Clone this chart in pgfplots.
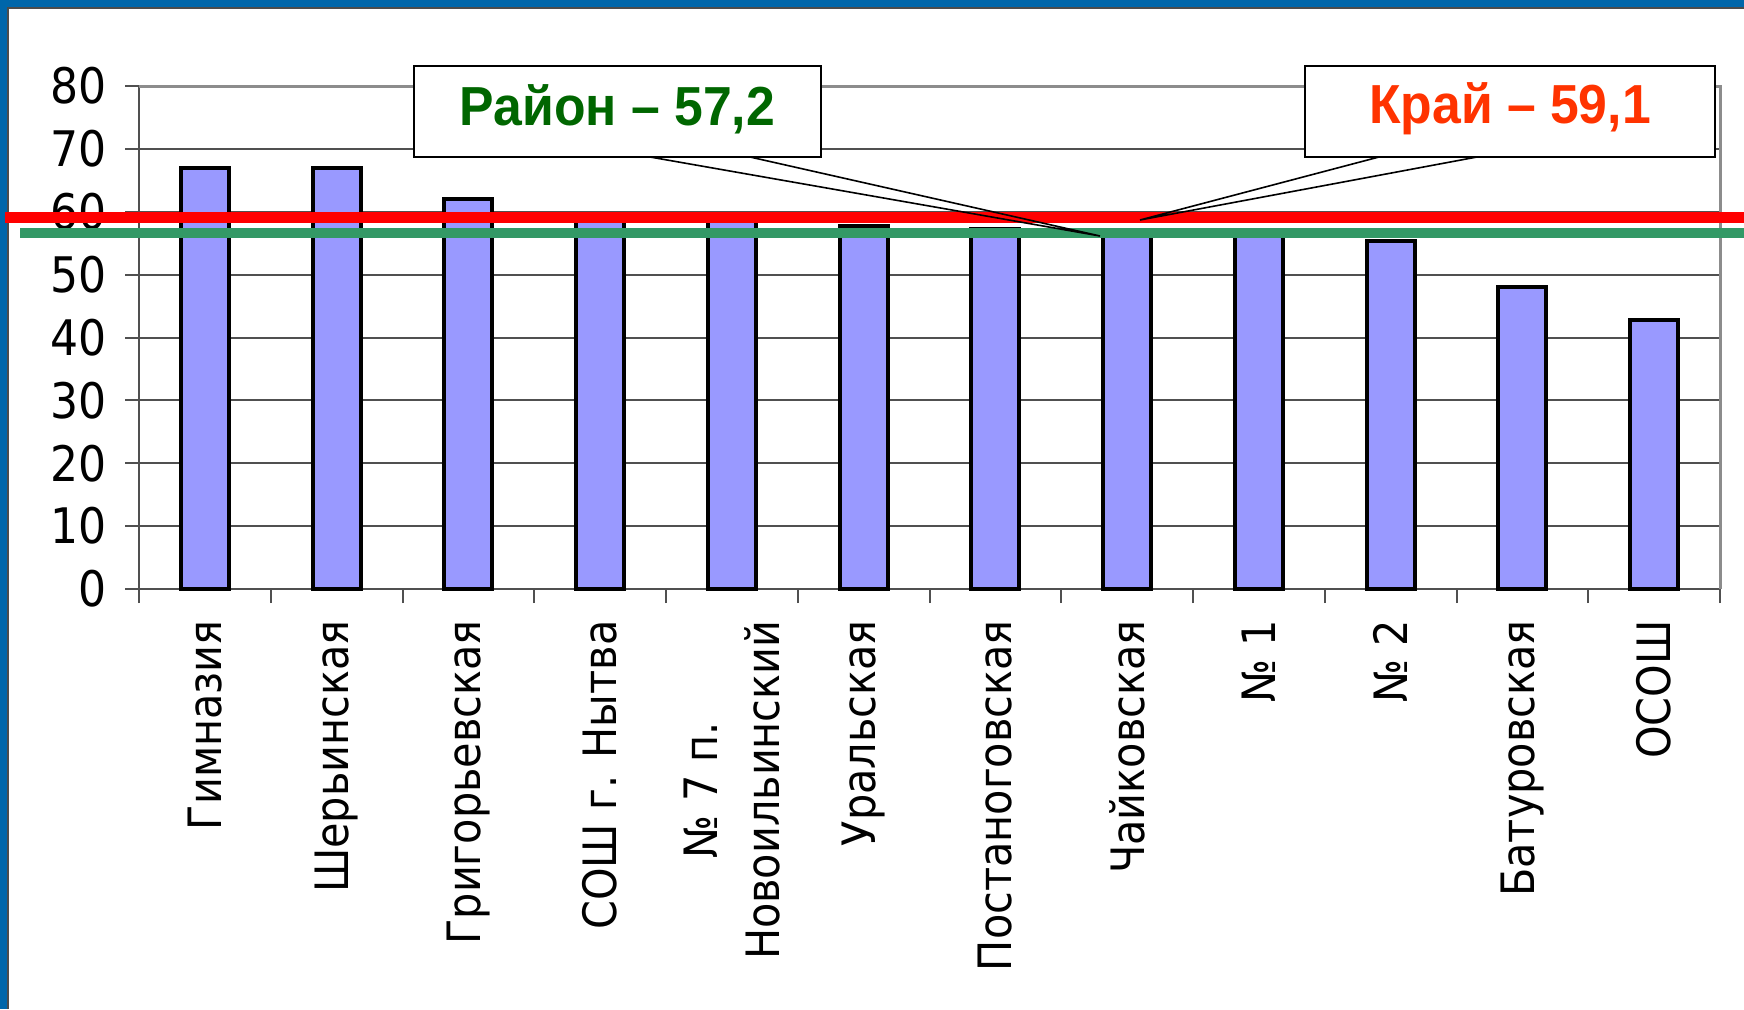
\documentclass[border=0pt]{standalone}
\usepackage{fontspec}
\setmainfont{DejaVu Sans}
\newfontfamily\tickfont{DejaVu Sans}[FakeStretch=0.9]
\newfontfamily\callfont{Liberation Sans}[FakeStretch=0.94]
\usepackage{pgfplots}
\pgfplotsset{compat=1.18}
\definecolor{barblue}{RGB}{153,153,255}
\definecolor{frameblue}{RGB}{0,102,170}
\definecolor{raiongreen}{RGB}{0,102,0}
\definecolor{kraired}{RGB}{255,51,0}
\definecolor{linegreen}{RGB}{51,153,102}
\definecolor{gridgray}{RGB}{80,80,80}
\definecolor{framegray}{RGB}{140,140,140}
\begin{document}
\begin{tikzpicture}
\begin{scope}[x=0.5pt,y=0.5pt]
\useasboundingbox (0,0) rectangle (1744,1009);
\fill[white] (0,0) rectangle (1744,1009);
\fill[frameblue] (0,1001) rectangle (1744,1009);
\fill[frameblue] (0,0) rectangle (8,1009);
\draw[black!70, line width=0.6pt] (8,0) -- (8,1001) -- (1744,1001);
\end{scope}
\begin{pgfinterruptboundingbox}
\begin{axis}[
  at={(69.5pt,210pt)}, anchor=south west, scale only axis,
  width=790.5pt, height=251.5pt,
  xmin=-0.5, xmax=11.5, ymin=0, ymax=80,
  clip=false,
  axis x line*=bottom, axis y line*=left,
  axis line style={gridgray, line width=1pt},
  xtick={0,...,11},
  xticklabels={Гимназия, Шерьинская, Григорьевская, СОШ г. Нытва, {№ 7 п.\\Новоильинский}, Уральская, Постаноговская, Чайковская, № 1, № 2, Батуровская, ОСОШ},
  major x tick style={draw=none},
  minor xtick={-0.5,0.5,...,11.5},
  ytick={0,10,...,80},
  tick align=outside, major tick length=7pt, minor tick length=7pt,
  tick style={gridgray, line width=1pt},
  ymajorgrids, grid style={gridgray, line width=1pt},
  /pgf/number format/assume math mode=true,
  yticklabel style={font=\tickfont\fontsize{24.5pt}{28pt}\selectfont, anchor=east, inner sep=0pt, xshift=-9pt},
  xticklabel style={font=\tickfont\fontsize{23pt}{31pt}\selectfont, rotate=90, anchor=east, align=center, inner sep=0pt, xshift=-8.5pt},
]
\addplot[ybar, bar width=0.365, fill=barblue, draw=black, line width=2pt] coordinates {
 (0,67.0) (1,67.0) (2,62.0) (3,59.2) (4,59.0) (5,57.7) (6,57.3) (7,56.9) (8,56.6) (9,55.3) (10,48.0) (11,42.8)};
\draw[framegray, line width=1.5pt] (rel axis cs:0,1) -- (rel axis cs:1,1) -- (rel axis cs:1,0);
\addplot[red, line width=5.5pt] coordinates {(-1.517,59.1) (11.7,59.1)};
\addplot[linegreen, line width=5pt] coordinates {(-1.403,56.6) (11.7,56.6)};
\end{axis}
\end{pgfinterruptboundingbox}
\begin{scope}[x=0.5pt,y=0.5pt]
\draw[black, line width=0.8pt] (650,852) -- (1100,773) -- (750,852);
\filldraw[fill=white, draw=black, line width=0.8pt] (414,852) rectangle (821,943);
\node[text=raiongreen, font=\callfont\bfseries\fontsize{27.5pt}{30pt}\selectfont] at (617.5,900) {Район – 57,2};
\draw[black, line width=0.8pt] (1379,852) -- (1140,789) -- (1477,852);
\filldraw[fill=white, draw=black, line width=0.8pt] (1305,852) rectangle (1715,943);
\node[text=kraired, font=\callfont\bfseries\fontsize{27.5pt}{30pt}\selectfont] at (1510,900) {Край – 59,1};
\end{scope}
\end{tikzpicture}
\end{document}
